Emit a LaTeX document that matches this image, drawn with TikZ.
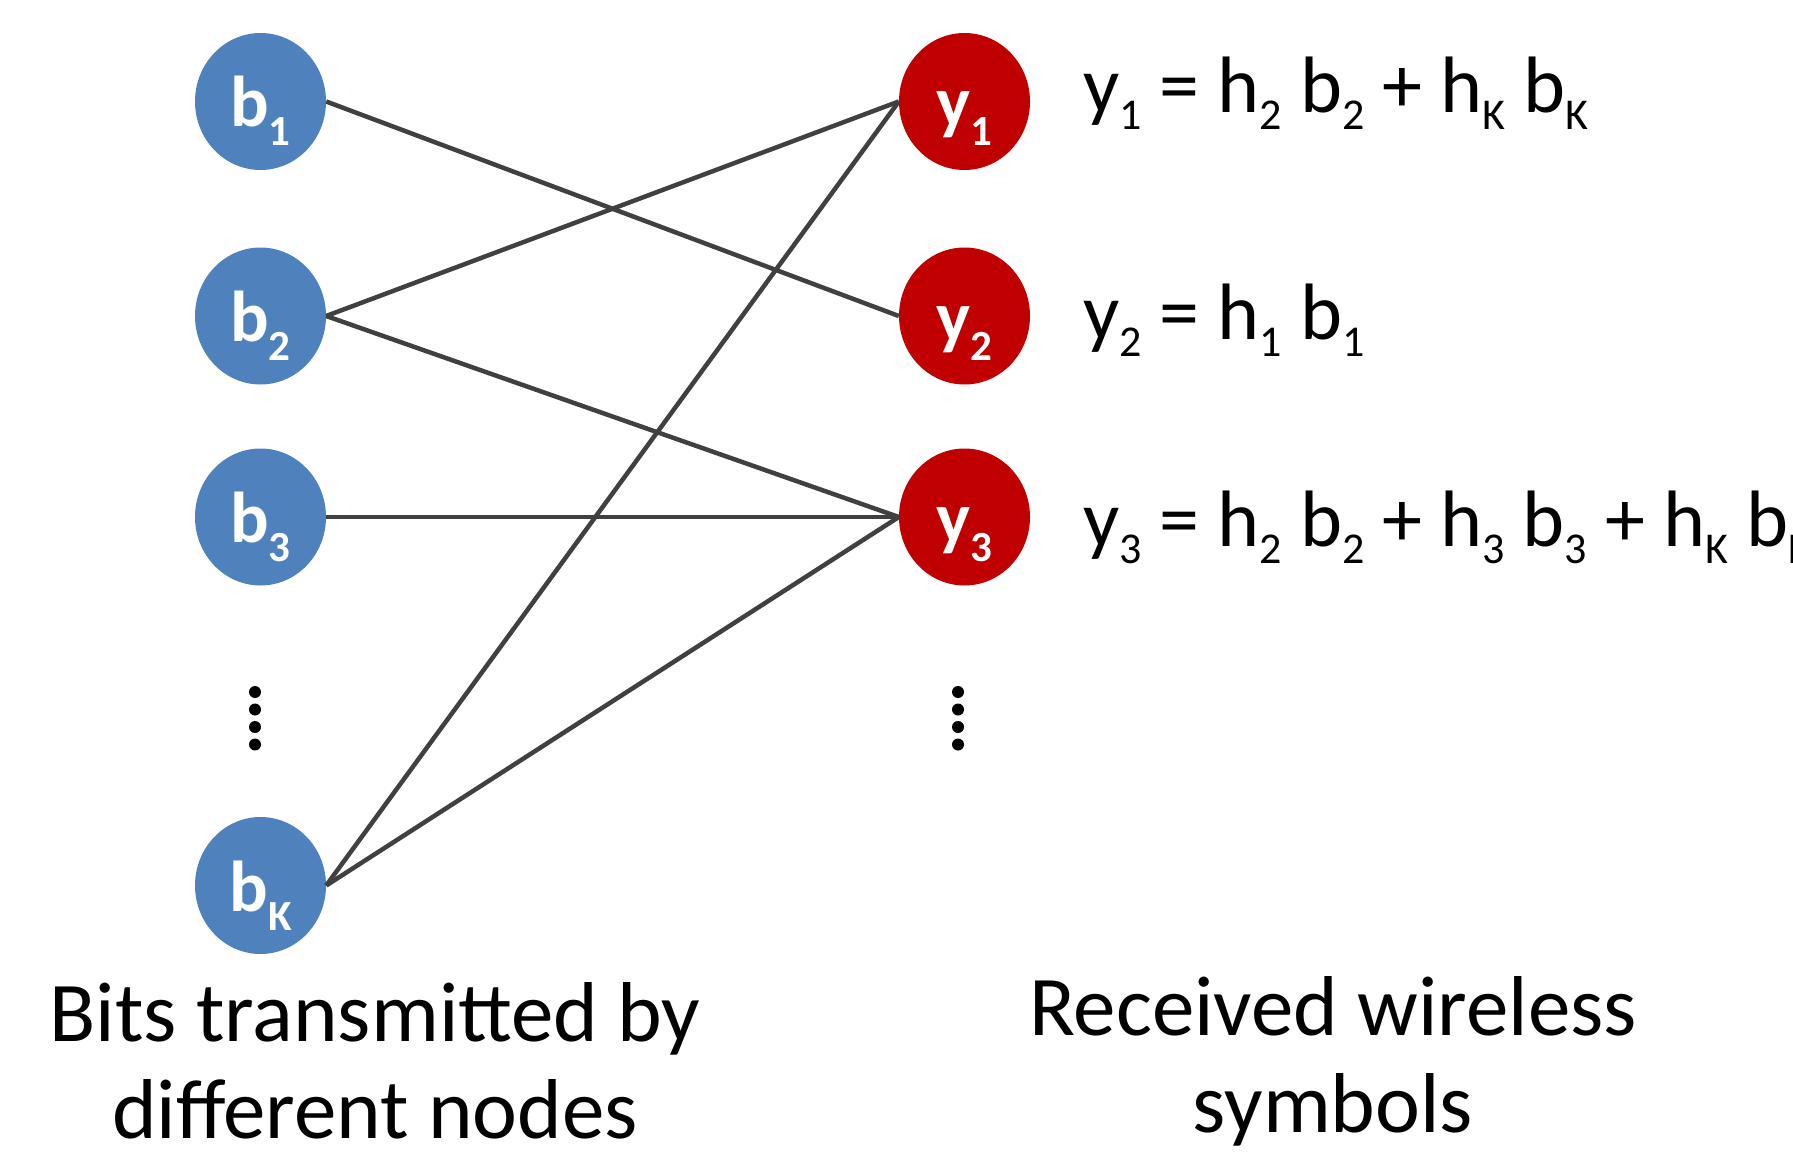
\documentclass[tikz,border=0pt]{standalone}
\usepackage{fontspec}
\setmainfont{Carlito}
\usetikzlibrary{shapes.geometric}
\definecolor{bitblue}{HTML}{4F81BD}
\definecolor{symred}{HTML}{C00000}
\definecolor{linkgray}{HTML}{404040}
% lowered indices for node labels and equations
\newcommand\nsub[1]{\raisebox{-19pt}{\fontsize{43}{43}\selectfont #1}}
\newcommand\esub[1]{\raisebox{-17pt}{\fontsize{44}{44}\selectfont #1}}
\begin{document}
\begin{tikzpicture}[x=1pt,y=-1pt,
  disc/.style={ellipse, minimum width=131pt, minimum height=137pt, inner sep=0pt,
    text=white, font=\fontsize{72}{72}\selectfont\bfseries,
    text height=60pt, text depth=9pt},
  bit/.style={disc, fill=bitblue},
  sym/.style={disc, fill=symred},
  link/.style={draw=linkgray, line width=4.5pt},
  eqn/.style={anchor=base west, inner sep=0pt, font=\fontsize{80}{80}\selectfont},
  caption/.style={align=center, inner sep=0pt, anchor=base, font=\fontsize{85}{97}\selectfont},
  vdot/.style={circle, fill=black, inner sep=0pt, minimum size=12pt}]
\useasboundingbox (0,0) rectangle (1793,1153);

% transmitted bits
\node[bit] (b1) at (260.5,101.5) {b\nsub{1}};
\node[bit] (b2) at (260.5,316) {b\nsub{2}};
\node[bit] (b3) at (260.5,517) {b\nsub{3}};
\node[bit] (bK) at (260.5,885.5) {b\nsub{K}};

% received symbols
\node[sym] (y1) at (964.5,101.5) {y\nsub{1}};
\node[sym] (y2) at (964.5,316) {y\nsub{2}};
\node[sym] (y3) at (964.5,517) {y\nsub{3}};

% channel links
\draw[link] (b1.east) -- (y2.west);
\draw[link] (b2.east) -- (y1.west);
\draw[link] (b2.east) -- (y3.west);
\draw[link] (b3.east) -- (y3.west);
\draw[link] (bK.east) -- (y1.west);
\draw[link] (bK.east) -- (y3.west);

% vertical ellipses
\foreach \i/\yy in {1/692,2/709.5,3/727,4/744.5} {
  \node[vdot] (ld\i) at (255,\yy) {};
  \node[vdot] (rd\i) at (958,\yy) {};
}

% received-symbol equations
\node[eqn] (e1) at (1083,113) {y\esub{1} = h\esub{2} b\esub{2} + h\esub{K} b\esub{K}};
\node[eqn] (e2) at (1083,339) {y\esub{2} = h\esub{1} b\esub{1}};
\node[eqn] (e3) at (1083,546) {y\esub{3} = h\esub{2} b\esub{2} + h\esub{3} b\esub{3} + h\esub{K} b\esub{K}};

% column captions (anchored at the baseline of the last line)
\node[caption] (capL) at (375,1138) {Bits transmitted by\\different nodes};
\node[caption] (capR) at (1333,1132) {Received wireless\\symbols};
\end{tikzpicture}
\end{document}
